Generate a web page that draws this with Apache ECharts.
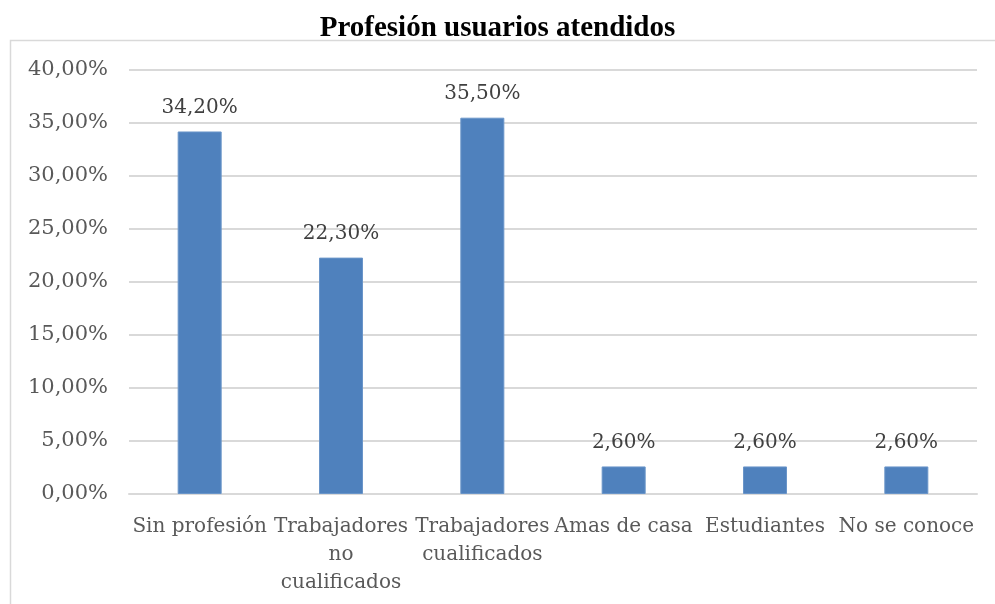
<!DOCTYPE html>
<html>
<head>
<meta charset="utf-8">
<script src="https://cdn.jsdelivr.net/npm/echarts@6/dist/echarts.min.js"></script>
<style>
  html, body { margin: 0; padding: 0; background: #fff; }
  #chart { width: 995px; height: 604px; }
</style>
</head>
<body>
<div id="chart"></div>
<script>
  var categories = ['Sin profesión', 'Trabajadores no cualificados', 'Trabajadores cualificados', 'Amas de casa', 'Estudiantes', 'No se conoce']
  var tickLabels = ['Sin profesión', 'Trabajadores\nno\ncualificados', 'Trabajadores\ncualificados', 'Amas de casa', 'Estudiantes', 'No se conoce']
  var values = [34.2, 22.3, 35.5, 2.6, 2.6, 2.6]

  var serif = 'DejaVu Serif'
  var myChart = echarts.init(document.getElementById('chart'))

  function pct (v) {
    return v.toFixed(2).replace('.', ',') + '%'
  }

  var option = {
    animation: false,
    title: {
      text: 'Profesión usuarios atendidos',
      left: 'center',
      top: 9,
      textStyle: {
        fontFamily: 'Liberation Serif',
        fontWeight: 'bold',
        fontSize: 29,
        color: '#000'
      }
    },
    graphic: [{
      type: 'rect',
      shape: { x: 10.5, y: 40.5, width: 1000, height: 600 },
      style: { fill: 'none', stroke: '#d9d9d9', lineWidth: 1.5 },
      silent: true,
      z: -1
    }],
    grid: {
      left: 129,
      right: 18,
      top: 70,
      bottom: 110
    },
    xAxis: {
      type: 'category',
      data: categories,
      axisLine: { lineStyle: { color: '#d9d9d9', width: 2 } },
      axisTick: { show: false },
      axisLabel: {
        interval: 0,
        margin: 19,
        fontFamily: serif,
        fontSize: 20,
        lineHeight: 28,
        color: '#595959',
        formatter: function (val, idx) {
          return tickLabels[idx]
        }
      }
    },
    yAxis: {
      type: 'value',
      min: 0,
      max: 40,
      interval: 5,
      axisLine: { show: false },
      axisTick: { show: false },
      splitLine: { lineStyle: { color: '#d9d9d9', width: 2 } },
      axisLabel: {
        margin: 21,
        fontFamily: serif,
        fontSize: 21,
        color: '#595959',
        formatter: pct
      }
    },
    series: [{
      type: 'bar',
      data: values,
      barWidth: 44,
      itemStyle: {
        color: '#4f81bd',
        borderColor: '#6a95c9',
        borderWidth: 1
      },
      label: {
        show: true,
        position: 'top',
        distance: 14,
        fontFamily: serif,
        fontSize: 20,
        color: '#404040',
        formatter: function (p) { return pct(p.value) }
      }
    }]
  }
  myChart.setOption(option)
</script>
</body>
</html>
